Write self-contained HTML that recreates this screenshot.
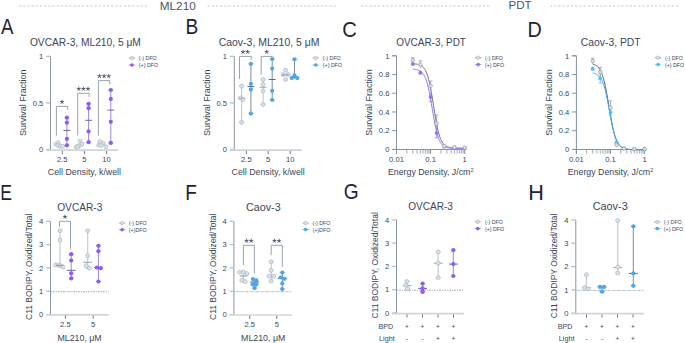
<!DOCTYPE html>
<html><head><meta charset="utf-8"><style>
html,body{margin:0;padding:0;background:#fff;}
body{width:685px;height:343px;overflow:hidden;}
svg{display:block;font-family:"Liberation Sans", sans-serif;}
</style></head><body>
<svg width="685" height="343" viewBox="0 0 685 343">
<rect width="685" height="343" fill="#fff"/>
<line x1="18.80" y1="6.00" x2="147.70" y2="6.00" stroke="#c3cad5" stroke-width="1" stroke-dasharray="2.3 1.9"/>
<line x1="207.50" y1="6.00" x2="336.80" y2="6.00" stroke="#c3cad5" stroke-width="1" stroke-dasharray="2.3 1.9"/>
<text x="177.75" y="9.50" font-size="11.2" fill="#4b5565" text-anchor="middle"  textLength="35.92" lengthAdjust="spacingAndGlyphs">ML210</text>
<line x1="361.00" y1="6.00" x2="490.50" y2="6.00" stroke="#c3cad5" stroke-width="1" stroke-dasharray="2.3 1.9"/>
<line x1="549.90" y1="6.00" x2="679.00" y2="6.00" stroke="#c3cad5" stroke-width="1" stroke-dasharray="2.3 1.9"/>
<text x="520.10" y="9.20" font-size="11" fill="#4b5565" text-anchor="middle"  textLength="23.01" lengthAdjust="spacingAndGlyphs">PDT</text>
<text x="1.06" y="34.00" font-size="21.6" fill="#1c2435" text-anchor="start"  textLength="12.47" lengthAdjust="spacingAndGlyphs">A</text>
<text x="29.92" y="46.30" font-size="10" fill="#3a4558" text-anchor="start"  textLength="110.92" lengthAdjust="spacingAndGlyphs">OVCAR-3, ML210, 5 μM</text>
<line x1="50.50" y1="56.40" x2="50.50" y2="150.00" stroke="#8b94a2" stroke-width="1" />
<line x1="46.20" y1="56.40" x2="50.10" y2="56.40" stroke="#b7bec8" stroke-width="1.3" />
<text x="43.30" y="59.10" font-size="7.6" fill="#3a4558" text-anchor="end" >1</text>
<line x1="46.20" y1="102.90" x2="50.10" y2="102.90" stroke="#b7bec8" stroke-width="1.3" />
<text x="43.30" y="105.60" font-size="7.6" fill="#3a4558" text-anchor="end" >0.5</text>
<line x1="46.20" y1="149.40" x2="50.10" y2="149.40" stroke="#b7bec8" stroke-width="1.3" />
<text x="43.30" y="152.10" font-size="7.6" fill="#3a4558" text-anchor="end" >0</text>
<text transform="translate(26.00,102.80) rotate(-90)" font-size="8.8" fill="#3a4558" text-anchor="middle" textLength="66.49" lengthAdjust="spacingAndGlyphs">Survival Fraction</text>
<circle cx="55.80" cy="144.00" r="2" fill="#d9e1ea" stroke="#a5b0be" stroke-width="0.6"/>
<circle cx="58.30" cy="142.60" r="2" fill="#d9e1ea" stroke="#a5b0be" stroke-width="0.6"/>
<circle cx="57.80" cy="145.50" r="2" fill="#d9e1ea" stroke="#a5b0be" stroke-width="0.6"/>
<circle cx="60.30" cy="146.30" r="2" fill="#d9e1ea" stroke="#a5b0be" stroke-width="0.6"/>
<circle cx="62.60" cy="146.30" r="2" fill="#d9e1ea" stroke="#a5b0be" stroke-width="0.6"/>
<line x1="66.90" y1="117.70" x2="66.90" y2="145.30" stroke="#968bcf" stroke-width="1" />
<line x1="64.30" y1="117.70" x2="69.50" y2="117.70" stroke="#968bcf" stroke-width="0.7" />
<line x1="64.30" y1="145.30" x2="69.50" y2="145.30" stroke="#968bcf" stroke-width="0.7" />
<line x1="63.50" y1="130.40" x2="70.30" y2="130.40" stroke="#6a639f" stroke-width="1" />
<circle cx="66.90" cy="117.70" r="2.1" fill="#8b5cf6" stroke="none" stroke-width="0.6"/>
<circle cx="66.90" cy="122.70" r="2.1" fill="#8b5cf6" stroke="none" stroke-width="0.6"/>
<circle cx="66.90" cy="138.90" r="2.1" fill="#8b5cf6" stroke="none" stroke-width="0.6"/>
<circle cx="66.90" cy="145.30" r="2.1" fill="#8b5cf6" stroke="none" stroke-width="0.6"/>
<circle cx="79.90" cy="141.00" r="2" fill="#d9e1ea" stroke="#a5b0be" stroke-width="0.6"/>
<circle cx="82.00" cy="144.00" r="2" fill="#d9e1ea" stroke="#a5b0be" stroke-width="0.6"/>
<circle cx="79.00" cy="145.90" r="2" fill="#d9e1ea" stroke="#a5b0be" stroke-width="0.6"/>
<circle cx="76.00" cy="146.80" r="2" fill="#d9e1ea" stroke="#a5b0be" stroke-width="0.6"/>
<circle cx="77.80" cy="147.00" r="2" fill="#d9e1ea" stroke="#a5b0be" stroke-width="0.6"/>
<line x1="88.60" y1="103.80" x2="88.60" y2="142.20" stroke="#968bcf" stroke-width="1" />
<line x1="86.00" y1="103.80" x2="91.20" y2="103.80" stroke="#968bcf" stroke-width="0.7" />
<line x1="86.00" y1="142.20" x2="91.20" y2="142.20" stroke="#968bcf" stroke-width="0.7" />
<line x1="85.20" y1="120.30" x2="92.00" y2="120.30" stroke="#6a639f" stroke-width="1" />
<circle cx="88.60" cy="103.80" r="2.1" fill="#8b5cf6" stroke="none" stroke-width="0.6"/>
<circle cx="88.60" cy="108.20" r="2.1" fill="#8b5cf6" stroke="none" stroke-width="0.6"/>
<circle cx="88.60" cy="131.40" r="2.1" fill="#8b5cf6" stroke="none" stroke-width="0.6"/>
<circle cx="88.60" cy="142.20" r="2.1" fill="#8b5cf6" stroke="none" stroke-width="0.6"/>
<circle cx="99.80" cy="141.50" r="2" fill="#d9e1ea" stroke="#a5b0be" stroke-width="0.6"/>
<circle cx="103.10" cy="143.30" r="2" fill="#d9e1ea" stroke="#a5b0be" stroke-width="0.6"/>
<circle cx="98.70" cy="145.00" r="2" fill="#d9e1ea" stroke="#a5b0be" stroke-width="0.6"/>
<circle cx="101.00" cy="145.50" r="2" fill="#d9e1ea" stroke="#a5b0be" stroke-width="0.6"/>
<circle cx="105.90" cy="146.80" r="2" fill="#d9e1ea" stroke="#a5b0be" stroke-width="0.6"/>
<line x1="110.80" y1="90.00" x2="110.80" y2="142.90" stroke="#968bcf" stroke-width="1" />
<line x1="108.20" y1="90.00" x2="113.40" y2="90.00" stroke="#968bcf" stroke-width="0.7" />
<line x1="108.20" y1="142.90" x2="113.40" y2="142.90" stroke="#968bcf" stroke-width="0.7" />
<line x1="107.40" y1="110.10" x2="114.20" y2="110.10" stroke="#6a639f" stroke-width="1" />
<circle cx="110.80" cy="90.00" r="2.1" fill="#8b5cf6" stroke="none" stroke-width="0.6"/>
<circle cx="110.80" cy="98.90" r="2.1" fill="#8b5cf6" stroke="none" stroke-width="0.6"/>
<circle cx="110.80" cy="121.80" r="2.1" fill="#8b5cf6" stroke="none" stroke-width="0.6"/>
<circle cx="110.80" cy="142.90" r="2.1" fill="#8b5cf6" stroke="none" stroke-width="0.6"/>
<polyline points="56.40,135.70 56.40,106.40 67.70,106.40 67.70,110.00" fill="none" stroke="#949dab" stroke-width="0.95"/>
<path d="M62.05,102.00L62.05,100.25M62.05,102.00L63.71,101.46M62.05,102.00L63.08,103.42M62.05,102.00L61.02,103.42M62.05,102.00L60.39,101.46" stroke="#465064" stroke-width="0.85" stroke-linecap="round" fill="none"/>
<polyline points="77.70,135.40 77.70,93.30 89.10,93.30 89.10,97.00" fill="none" stroke="#949dab" stroke-width="0.95"/>
<path d="M78.80,88.90L78.80,87.15M78.80,88.90L80.46,88.36M78.80,88.90L79.83,90.32M78.80,88.90L77.77,90.32M78.80,88.90L77.14,88.36" stroke="#465064" stroke-width="0.85" stroke-linecap="round" fill="none"/>
<path d="M83.40,88.90L83.40,87.15M83.40,88.90L85.06,88.36M83.40,88.90L84.43,90.32M83.40,88.90L82.37,90.32M83.40,88.90L81.74,88.36" stroke="#465064" stroke-width="0.85" stroke-linecap="round" fill="none"/>
<path d="M88.00,88.90L88.00,87.15M88.00,88.90L89.66,88.36M88.00,88.90L89.03,90.32M88.00,88.90L86.97,90.32M88.00,88.90L86.34,88.36" stroke="#465064" stroke-width="0.85" stroke-linecap="round" fill="none"/>
<polyline points="98.40,135.60 98.40,80.60 109.80,80.60 109.80,84.60" fill="none" stroke="#949dab" stroke-width="0.95"/>
<path d="M99.50,76.20L99.50,74.45M99.50,76.20L101.16,75.66M99.50,76.20L100.53,77.62M99.50,76.20L98.47,77.62M99.50,76.20L97.84,75.66" stroke="#465064" stroke-width="0.85" stroke-linecap="round" fill="none"/>
<path d="M104.10,76.20L104.10,74.45M104.10,76.20L105.76,75.66M104.10,76.20L105.13,77.62M104.10,76.20L103.07,77.62M104.10,76.20L102.44,75.66" stroke="#465064" stroke-width="0.85" stroke-linecap="round" fill="none"/>
<path d="M108.70,76.20L108.70,74.45M108.70,76.20L110.36,75.66M108.70,76.20L109.73,77.62M108.70,76.20L107.67,77.62M108.70,76.20L107.04,75.66" stroke="#465064" stroke-width="0.85" stroke-linecap="round" fill="none"/>
<line x1="46.00" y1="150.20" x2="118.20" y2="150.20" stroke="#d0d4da" stroke-width="1.7" />
<line x1="62.30" y1="151.00" x2="62.30" y2="154.20" stroke="#6f7886" stroke-width="1" />
<text x="62.30" y="161.90" font-size="7.6" fill="#3a4558" text-anchor="middle" >2.5</text>
<line x1="84.40" y1="151.00" x2="84.40" y2="154.20" stroke="#6f7886" stroke-width="1" />
<text x="84.40" y="161.90" font-size="7.6" fill="#3a4558" text-anchor="middle" >5</text>
<line x1="106.60" y1="151.00" x2="106.60" y2="154.20" stroke="#6f7886" stroke-width="1" />
<text x="106.60" y="161.90" font-size="7.6" fill="#3a4558" text-anchor="middle" >10</text>
<text x="84.40" y="175.00" font-size="8.8" fill="#3a4558" text-anchor="middle" >Cell Density, k/well</text>
<line x1="128.70" y1="58.00" x2="135.10" y2="58.00" stroke="#8a94a3" stroke-width="0.7" />
<circle cx="131.90" cy="58.00" r="1.7" fill="#d9e1ea" stroke="#a5b0be" stroke-width="0.6"/>
<text x="138.80" y="59.90" font-size="5.3" fill="#3a4558" text-anchor="start" >(-) DFO</text>
<line x1="128.70" y1="65.00" x2="135.10" y2="65.00" stroke="#7d8797" stroke-width="0.7" />
<circle cx="131.90" cy="65.00" r="1.8" fill="#8b5cf6" stroke="none" stroke-width="0.6"/>
<text x="138.80" y="66.90" font-size="5.3" fill="#3a4558" text-anchor="start" >(+) DFO</text>
<text x="185.43" y="33.80" font-size="21.6" fill="#1c2435" text-anchor="start"  textLength="12.78" lengthAdjust="spacingAndGlyphs">B</text>
<text x="218.67" y="46.30" font-size="10" fill="#3a4558" text-anchor="start"  textLength="100.89" lengthAdjust="spacingAndGlyphs">Caov-3, ML210, 5 μM</text>
<line x1="234.30" y1="56.40" x2="234.30" y2="150.00" stroke="#8b94a2" stroke-width="1" />
<line x1="230.00" y1="56.40" x2="233.90" y2="56.40" stroke="#b7bec8" stroke-width="1.3" />
<text x="227.10" y="59.10" font-size="7.6" fill="#3a4558" text-anchor="end" >1</text>
<line x1="230.00" y1="102.90" x2="233.90" y2="102.90" stroke="#b7bec8" stroke-width="1.3" />
<text x="227.10" y="105.60" font-size="7.6" fill="#3a4558" text-anchor="end" >0.5</text>
<line x1="230.00" y1="149.40" x2="233.90" y2="149.40" stroke="#b7bec8" stroke-width="1.3" />
<text x="227.10" y="152.10" font-size="7.6" fill="#3a4558" text-anchor="end" >0</text>
<text transform="translate(209.80,102.80) rotate(-90)" font-size="8.8" fill="#3a4558" text-anchor="middle" textLength="66.49" lengthAdjust="spacingAndGlyphs">Survival Fraction</text>
<line x1="241.60" y1="86.10" x2="241.60" y2="122.40" stroke="#c4ccd6" stroke-width="1.2" />
<line x1="239.00" y1="86.10" x2="244.20" y2="86.10" stroke="#c4ccd6" stroke-width="0.7" />
<line x1="239.00" y1="122.40" x2="244.20" y2="122.40" stroke="#c4ccd6" stroke-width="0.7" />
<circle cx="241.60" cy="86.10" r="2" fill="#d9e1ea" stroke="#a5b0be" stroke-width="0.6"/>
<circle cx="240.40" cy="97.90" r="2" fill="#d9e1ea" stroke="#a5b0be" stroke-width="0.6"/>
<circle cx="243.00" cy="99.60" r="2" fill="#d9e1ea" stroke="#a5b0be" stroke-width="0.6"/>
<circle cx="241.60" cy="122.40" r="2" fill="#d9e1ea" stroke="#a5b0be" stroke-width="0.6"/>
<line x1="238.30" y1="98.20" x2="245.00" y2="98.20" stroke="#a9b2be" stroke-width="1" />
<line x1="250.90" y1="63.90" x2="250.90" y2="113.60" stroke="#7f8b9b" stroke-width="1" />
<line x1="248.30" y1="63.90" x2="253.50" y2="63.90" stroke="#7f8b9b" stroke-width="0.7" />
<line x1="248.30" y1="113.60" x2="253.50" y2="113.60" stroke="#7f8b9b" stroke-width="0.7" />
<line x1="247.50" y1="86.60" x2="254.30" y2="86.60" stroke="#5d6878" stroke-width="1" />
<circle cx="250.90" cy="63.90" r="2.1" fill="#4aa8ea" stroke="none" stroke-width="0.6"/>
<circle cx="250.90" cy="83.80" r="2.1" fill="#4aa8ea" stroke="none" stroke-width="0.6"/>
<circle cx="250.90" cy="89.60" r="2.1" fill="#4aa8ea" stroke="none" stroke-width="0.6"/>
<circle cx="250.90" cy="113.60" r="2.1" fill="#4aa8ea" stroke="none" stroke-width="0.6"/>
<line x1="263.10" y1="79.50" x2="263.10" y2="104.50" stroke="#c4ccd6" stroke-width="1.2" />
<line x1="260.50" y1="79.50" x2="265.70" y2="79.50" stroke="#c4ccd6" stroke-width="0.7" />
<line x1="260.50" y1="104.50" x2="265.70" y2="104.50" stroke="#c4ccd6" stroke-width="0.7" />
<line x1="259.70" y1="87.30" x2="266.50" y2="87.30" stroke="#97a1ae" stroke-width="1" />
<circle cx="263.10" cy="79.50" r="2" fill="#d9e1ea" stroke="#a5b0be" stroke-width="0.6"/>
<circle cx="263.10" cy="84.40" r="2" fill="#d9e1ea" stroke="#a5b0be" stroke-width="0.6"/>
<circle cx="263.10" cy="90.90" r="2" fill="#d9e1ea" stroke="#a5b0be" stroke-width="0.6"/>
<circle cx="263.10" cy="104.50" r="2" fill="#d9e1ea" stroke="#a5b0be" stroke-width="0.6"/>
<line x1="272.20" y1="59.00" x2="272.20" y2="100.00" stroke="#7f8b9b" stroke-width="1" />
<line x1="269.60" y1="59.00" x2="274.80" y2="59.00" stroke="#7f8b9b" stroke-width="0.7" />
<line x1="269.60" y1="100.00" x2="274.80" y2="100.00" stroke="#7f8b9b" stroke-width="0.7" />
<line x1="268.80" y1="79.50" x2="275.60" y2="79.50" stroke="#5d6878" stroke-width="1" />
<circle cx="272.20" cy="59.00" r="2.1" fill="#4aa8ea" stroke="none" stroke-width="0.6"/>
<circle cx="272.20" cy="68.60" r="2.1" fill="#4aa8ea" stroke="none" stroke-width="0.6"/>
<circle cx="272.20" cy="90.80" r="2.1" fill="#4aa8ea" stroke="none" stroke-width="0.6"/>
<circle cx="272.20" cy="100.00" r="2.1" fill="#4aa8ea" stroke="none" stroke-width="0.6"/>
<circle cx="285.60" cy="70.20" r="2" fill="#d9e1ea" stroke="#a5b0be" stroke-width="0.6"/>
<circle cx="283.00" cy="74.50" r="2" fill="#d9e1ea" stroke="#a5b0be" stroke-width="0.6"/>
<circle cx="288.20" cy="74.50" r="2" fill="#d9e1ea" stroke="#a5b0be" stroke-width="0.6"/>
<circle cx="285.60" cy="79.60" r="2" fill="#d9e1ea" stroke="#a5b0be" stroke-width="0.6"/>
<line x1="281.80" y1="75.00" x2="289.00" y2="75.00" stroke="#8a95a5" stroke-width="1" />
<line x1="294.50" y1="59.30" x2="294.50" y2="78.10" stroke="#7f8b9b" stroke-width="1" />
<line x1="291.90" y1="59.30" x2="297.10" y2="59.30" stroke="#7f8b9b" stroke-width="0.7" />
<line x1="291.90" y1="78.10" x2="297.10" y2="78.10" stroke="#7f8b9b" stroke-width="0.7" />
<line x1="291.10" y1="77.00" x2="297.90" y2="77.00" stroke="#5d6878" stroke-width="1" />
<circle cx="294.50" cy="59.30" r="2.1" fill="#4aa8ea" stroke="none" stroke-width="0.6"/>
<circle cx="294.50" cy="75.40" r="2.1" fill="#4aa8ea" stroke="none" stroke-width="0.6"/>
<circle cx="291.70" cy="78.10" r="2.1" fill="#4aa8ea" stroke="none" stroke-width="0.6"/>
<circle cx="297.30" cy="78.10" r="2.1" fill="#4aa8ea" stroke="none" stroke-width="0.6"/>
<polyline points="239.50,79.00 239.50,56.40 251.20,56.40 251.20,59.90" fill="none" stroke="#949dab" stroke-width="0.95"/>
<path d="M243.05,52.00L243.05,50.25M243.05,52.00L244.71,51.46M243.05,52.00L244.08,53.42M243.05,52.00L242.02,53.42M243.05,52.00L241.39,51.46" stroke="#465064" stroke-width="0.85" stroke-linecap="round" fill="none"/>
<path d="M247.65,52.00L247.65,50.25M247.65,52.00L249.31,51.46M247.65,52.00L248.68,53.42M247.65,52.00L246.62,53.42M247.65,52.00L245.99,51.46" stroke="#465064" stroke-width="0.85" stroke-linecap="round" fill="none"/>
<polyline points="261.20,74.70 261.20,56.40 272.20,56.40 272.20,57.50" fill="none" stroke="#949dab" stroke-width="0.95"/>
<path d="M266.70,52.00L266.70,50.25M266.70,52.00L268.36,51.46M266.70,52.00L267.73,53.42M266.70,52.00L265.67,53.42M266.70,52.00L265.04,51.46" stroke="#465064" stroke-width="0.85" stroke-linecap="round" fill="none"/>
<line x1="229.80" y1="150.20" x2="301.90" y2="150.20" stroke="#d0d4da" stroke-width="1.7" />
<line x1="246.40" y1="151.00" x2="246.40" y2="154.20" stroke="#6f7886" stroke-width="1" />
<text x="246.40" y="161.90" font-size="7.6" fill="#3a4558" text-anchor="middle" >2.5</text>
<line x1="268.20" y1="151.00" x2="268.20" y2="154.20" stroke="#6f7886" stroke-width="1" />
<text x="268.20" y="161.90" font-size="7.6" fill="#3a4558" text-anchor="middle" >5</text>
<line x1="290.20" y1="151.00" x2="290.20" y2="154.20" stroke="#6f7886" stroke-width="1" />
<text x="290.20" y="161.90" font-size="7.6" fill="#3a4558" text-anchor="middle" >10</text>
<text x="268.20" y="175.00" font-size="8.8" fill="#3a4558" text-anchor="middle" >Cell Density, k/well</text>
<line x1="312.50" y1="57.90" x2="318.90" y2="57.90" stroke="#8a94a3" stroke-width="0.7" />
<circle cx="315.70" cy="57.90" r="1.7" fill="#d9e1ea" stroke="#a5b0be" stroke-width="0.6"/>
<text x="322.80" y="59.80" font-size="5.3" fill="#3a4558" text-anchor="start" >(-) DFO</text>
<line x1="312.50" y1="65.00" x2="318.90" y2="65.00" stroke="#7d8797" stroke-width="0.7" />
<circle cx="315.70" cy="65.00" r="1.8" fill="#4aa8ea" stroke="none" stroke-width="0.6"/>
<text x="322.80" y="66.90" font-size="5.3" fill="#3a4558" text-anchor="start" >(+) DFO</text>
<text x="342.27" y="36.60" font-size="21.6" fill="#1c2435" text-anchor="start"  textLength="14.60" lengthAdjust="spacingAndGlyphs">C</text>
<text x="396.23" y="46.20" font-size="10" fill="#3a4558" text-anchor="start"  textLength="69.70" lengthAdjust="spacingAndGlyphs">OVCAR-3, PDT</text>
<line x1="396.50" y1="55.80" x2="396.50" y2="153.80" stroke="#8791a0" stroke-width="1" />
<line x1="392.20" y1="149.40" x2="396.50" y2="149.40" stroke="#8791a0" stroke-width="1" />
<text x="389.40" y="152.10" font-size="7.6" fill="#3a4558" text-anchor="end" >0</text>
<line x1="392.20" y1="130.68" x2="396.50" y2="130.68" stroke="#8791a0" stroke-width="1" />
<text x="389.40" y="133.38" font-size="7.6" fill="#3a4558" text-anchor="end" >0.2</text>
<line x1="392.20" y1="111.96" x2="396.50" y2="111.96" stroke="#8791a0" stroke-width="1" />
<text x="389.40" y="114.66" font-size="7.6" fill="#3a4558" text-anchor="end" >0.4</text>
<line x1="392.20" y1="93.24" x2="396.50" y2="93.24" stroke="#8791a0" stroke-width="1" />
<text x="389.40" y="95.94" font-size="7.6" fill="#3a4558" text-anchor="end" >0.6</text>
<line x1="392.20" y1="74.52" x2="396.50" y2="74.52" stroke="#8791a0" stroke-width="1" />
<text x="389.40" y="77.22" font-size="7.6" fill="#3a4558" text-anchor="end" >0.8</text>
<line x1="392.20" y1="55.80" x2="396.50" y2="55.80" stroke="#8791a0" stroke-width="1" />
<text x="389.40" y="58.50" font-size="7.6" fill="#3a4558" text-anchor="end" >1</text>
<line x1="392.20" y1="55.80" x2="396.50" y2="55.80" stroke="#8791a0" stroke-width="1" />
<line x1="392.20" y1="149.50" x2="466.20" y2="149.50" stroke="#8791a0" stroke-width="1" />
<line x1="396.50" y1="149.50" x2="396.50" y2="153.80" stroke="#8791a0" stroke-width="1" />
<line x1="406.77" y1="149.50" x2="406.77" y2="153.60" stroke="#97a0ad" stroke-width="0.9" />
<line x1="412.77" y1="149.50" x2="412.77" y2="153.60" stroke="#97a0ad" stroke-width="0.9" />
<line x1="417.03" y1="149.50" x2="417.03" y2="153.60" stroke="#97a0ad" stroke-width="0.9" />
<line x1="420.33" y1="149.50" x2="420.33" y2="153.60" stroke="#97a0ad" stroke-width="0.9" />
<line x1="423.03" y1="149.50" x2="423.03" y2="153.60" stroke="#97a0ad" stroke-width="0.9" />
<line x1="425.32" y1="149.50" x2="425.32" y2="153.60" stroke="#97a0ad" stroke-width="0.9" />
<line x1="427.30" y1="149.50" x2="427.30" y2="153.60" stroke="#97a0ad" stroke-width="0.9" />
<line x1="429.04" y1="149.50" x2="429.04" y2="153.60" stroke="#97a0ad" stroke-width="0.9" />
<line x1="430.60" y1="149.50" x2="430.60" y2="153.80" stroke="#8791a0" stroke-width="1" />
<line x1="440.87" y1="149.50" x2="440.87" y2="153.60" stroke="#97a0ad" stroke-width="0.9" />
<line x1="446.87" y1="149.50" x2="446.87" y2="153.60" stroke="#97a0ad" stroke-width="0.9" />
<line x1="451.13" y1="149.50" x2="451.13" y2="153.60" stroke="#97a0ad" stroke-width="0.9" />
<line x1="454.43" y1="149.50" x2="454.43" y2="153.60" stroke="#97a0ad" stroke-width="0.9" />
<line x1="457.13" y1="149.50" x2="457.13" y2="153.60" stroke="#97a0ad" stroke-width="0.9" />
<line x1="459.42" y1="149.50" x2="459.42" y2="153.60" stroke="#97a0ad" stroke-width="0.9" />
<line x1="461.40" y1="149.50" x2="461.40" y2="153.60" stroke="#97a0ad" stroke-width="0.9" />
<line x1="463.14" y1="149.50" x2="463.14" y2="153.60" stroke="#97a0ad" stroke-width="0.9" />
<line x1="464.70" y1="149.50" x2="464.70" y2="153.80" stroke="#8791a0" stroke-width="1" />
<text x="396.50" y="161.90" font-size="7.6" fill="#3a4558" text-anchor="middle" >0.01</text>
<text x="430.60" y="161.90" font-size="7.6" fill="#3a4558" text-anchor="middle" >0.1</text>
<text x="464.70" y="161.90" font-size="7.6" fill="#3a4558" text-anchor="middle" >1</text>
<text x="430.70" y="175.1" font-size="8.8" fill="#3a4558" text-anchor="middle">Energy Density, J/cm<tspan font-size="5.5" dy="-3.3">2</tspan></text>
<text transform="translate(372.20,102.50) rotate(-90)" font-size="8.8" fill="#3a4558" text-anchor="middle" textLength="66.49" lengthAdjust="spacingAndGlyphs">Survival Fraction</text>
<polyline points="412.77,63.75 413.20,63.78 413.64,63.80 414.07,63.83 414.50,63.87 414.93,63.91 415.37,63.95 415.80,64.00 416.23,64.06 416.66,64.12 417.10,64.19 417.53,64.28 417.96,64.37 418.40,64.48 418.83,64.60 419.26,64.74 419.69,64.90 420.13,65.08 420.56,65.28 420.99,65.51 421.42,65.77 421.86,66.06 422.29,66.39 422.72,66.76 423.16,67.18 423.59,67.65 424.02,68.18 424.45,68.78 424.89,69.45 425.32,70.19 425.75,71.02 426.19,71.95 426.62,72.98 427.05,74.11 427.48,75.36 427.92,76.74 428.35,78.24 428.78,79.87 429.21,81.64 429.65,83.54 430.08,85.58 430.51,87.75 430.95,90.04 431.38,92.45 431.81,94.96 432.24,97.55 432.68,100.20 433.11,102.91 433.54,105.63 433.97,108.36 434.41,111.07 434.84,113.73 435.27,116.34 435.71,118.85 436.14,121.27 436.57,123.58 437.00,125.77 437.44,127.83 437.87,129.75 438.30,131.54 438.73,133.19 439.17,134.71 439.60,136.10 440.03,137.36 440.47,138.52 440.90,139.56 441.33,140.50 441.76,141.34 442.20,142.10 442.63,142.78 443.06,143.38 443.50,143.92 443.93,144.40 444.36,144.83 444.79,145.21 445.23,145.54 445.66,145.84 446.09,146.10 446.52,146.33 446.96,146.54 447.39,146.72 447.82,146.88 448.26,147.02 448.69,147.15 449.12,147.25 449.55,147.35 449.99,147.44 450.42,147.51 450.85,147.58 451.28,147.63 451.72,147.69 452.15,147.73 452.58,147.77 453.02,147.80 453.45,147.83 453.88,147.86 454.31,147.88 454.75,147.91 455.18,147.92 455.61,147.94 456.04,147.95 456.48,147.97 456.91,147.98 457.34,147.99 457.78,148.00 458.21,148.00 458.64,148.01 459.07,148.01 459.51,148.02 459.94,148.02 460.37,148.03 460.81,148.03 461.24,148.03 461.67,148.04 462.10,148.04 462.54,148.04 462.97,148.04 463.40,148.04 463.83,148.05 464.27,148.05 464.70,148.05" fill="none" stroke="#6b7585" stroke-width="1"/>
<polyline points="412.77,69.11 413.20,69.14 413.64,69.18 414.07,69.22 414.50,69.27 414.93,69.32 415.37,69.38 415.80,69.45 416.23,69.53 416.66,69.62 417.10,69.72 417.53,69.83 417.96,69.97 418.40,70.11 418.83,70.28 419.26,70.47 419.69,70.69 420.13,70.93 420.56,71.21 420.99,71.52 421.42,71.87 421.86,72.27 422.29,72.71 422.72,73.21 423.16,73.78 423.59,74.41 424.02,75.11 424.45,75.90 424.89,76.77 425.32,77.75 425.75,78.82 426.19,80.00 426.62,81.30 427.05,82.73 427.48,84.27 427.92,85.95 428.35,87.75 428.78,89.68 429.21,91.73 429.65,93.91 430.08,96.18 430.51,98.55 430.95,101.01 431.38,103.52 431.81,106.08 432.24,108.66 432.68,111.23 433.11,113.79 433.54,116.31 433.97,118.76 434.41,121.14 434.84,123.42 435.27,125.60 435.71,127.66 436.14,129.59 436.57,131.40 437.00,133.08 437.44,134.63 437.87,136.06 438.30,137.37 438.73,138.55 439.17,139.63 439.60,140.61 440.03,141.49 440.47,142.28 440.90,142.99 441.33,143.62 441.76,144.19 442.20,144.69 442.63,145.14 443.06,145.54 443.50,145.89 443.93,146.21 444.36,146.48 444.79,146.73 445.23,146.94 445.66,147.14 446.09,147.30 446.52,147.45 446.96,147.58 447.39,147.70 447.82,147.80 448.26,147.89 448.69,147.97 449.12,148.04 449.55,148.10 449.99,148.16 450.42,148.20 450.85,148.24 451.28,148.28 451.72,148.31 452.15,148.34 452.58,148.37 453.02,148.39 453.45,148.41 453.88,148.42 454.31,148.44 454.75,148.45 455.18,148.46 455.61,148.47 456.04,148.48 456.48,148.49 456.91,148.50 457.34,148.50 457.78,148.51 458.21,148.51 458.64,148.52 459.07,148.52 459.51,148.52 459.94,148.53 460.37,148.53 460.81,148.53 461.24,148.53 461.67,148.53 462.10,148.54 462.54,148.54 462.97,148.54 463.40,148.54 463.83,148.54 464.27,148.54 464.70,148.54" fill="none" stroke="#9b6ff5" stroke-width="1"/>
<line x1="412.77" y1="57.67" x2="412.77" y2="62.35" stroke="#8791a0" stroke-width="0.7" />
<line x1="410.97" y1="57.67" x2="414.57" y2="57.67" stroke="#8791a0" stroke-width="0.7" />
<line x1="420.33" y1="60.85" x2="420.33" y2="68.34" stroke="#8791a0" stroke-width="0.7" />
<line x1="418.53" y1="60.85" x2="422.13" y2="60.85" stroke="#8791a0" stroke-width="0.7" />
<line x1="430.60" y1="81.07" x2="430.60" y2="90.43" stroke="#8791a0" stroke-width="0.7" />
<line x1="428.80" y1="81.07" x2="432.40" y2="81.07" stroke="#8791a0" stroke-width="0.7" />
<line x1="436.60" y1="115.05" x2="436.60" y2="131.90" stroke="#8791a0" stroke-width="0.7" />
<line x1="434.80" y1="115.05" x2="438.40" y2="115.05" stroke="#8791a0" stroke-width="0.7" />
<line x1="412.77" y1="63.01" x2="412.77" y2="64.88" stroke="#9b6ff5" stroke-width="0.7" />
<line x1="410.97" y1="64.88" x2="414.57" y2="64.88" stroke="#9b6ff5" stroke-width="0.7" />
<line x1="420.33" y1="71.24" x2="420.33" y2="74.05" stroke="#9b6ff5" stroke-width="0.7" />
<line x1="418.53" y1="74.05" x2="422.13" y2="74.05" stroke="#9b6ff5" stroke-width="0.7" />
<line x1="430.60" y1="92.30" x2="430.60" y2="101.66" stroke="#9b6ff5" stroke-width="0.7" />
<line x1="428.80" y1="101.66" x2="432.40" y2="101.66" stroke="#9b6ff5" stroke-width="0.7" />
<line x1="436.60" y1="128.43" x2="436.60" y2="137.79" stroke="#9b6ff5" stroke-width="0.7" />
<line x1="434.80" y1="137.79" x2="438.40" y2="137.79" stroke="#9b6ff5" stroke-width="0.7" />
<circle cx="412.77" cy="63.94" r="1.9" fill="#9b6ff5" stroke="none" stroke-width="0.6"/>
<circle cx="420.33" cy="72.65" r="1.9" fill="#9b6ff5" stroke="none" stroke-width="0.6"/>
<circle cx="430.60" cy="96.98" r="1.9" fill="#9b6ff5" stroke="none" stroke-width="0.6"/>
<circle cx="436.60" cy="133.11" r="1.9" fill="#9b6ff5" stroke="none" stroke-width="0.6"/>
<circle cx="444.17" cy="146.59" r="1.9" fill="#9b6ff5" stroke="none" stroke-width="0.6"/>
<circle cx="454.43" cy="147.53" r="1.9" fill="#9b6ff5" stroke="none" stroke-width="0.6"/>
<circle cx="464.70" cy="148.00" r="1.9" fill="#9b6ff5" stroke="none" stroke-width="0.6"/>
<circle cx="412.77" cy="60.01" r="1.8" fill="#dbe2ea" stroke="#8791a0" stroke-width="0.6"/>
<circle cx="420.33" cy="64.60" r="1.8" fill="#dbe2ea" stroke="#8791a0" stroke-width="0.6"/>
<circle cx="430.60" cy="85.75" r="1.8" fill="#dbe2ea" stroke="#8791a0" stroke-width="0.6"/>
<circle cx="436.60" cy="123.47" r="1.8" fill="#dbe2ea" stroke="#8791a0" stroke-width="0.6"/>
<circle cx="444.17" cy="146.31" r="1.8" fill="#dbe2ea" stroke="#8791a0" stroke-width="0.6"/>
<circle cx="454.43" cy="147.34" r="1.8" fill="#dbe2ea" stroke="#8791a0" stroke-width="0.6"/>
<circle cx="464.70" cy="147.81" r="1.8" fill="#dbe2ea" stroke="#8791a0" stroke-width="0.6"/>
<line x1="475.00" y1="57.70" x2="481.40" y2="57.70" stroke="#6b7585" stroke-width="0.7" />
<circle cx="478.20" cy="57.70" r="1.7" fill="#d9e1ea" stroke="#a5b0be" stroke-width="0.6"/>
<text x="484.90" y="59.60" font-size="5.3" fill="#3a4558" text-anchor="start" >(-) DFO</text>
<line x1="475.00" y1="64.60" x2="481.40" y2="64.60" stroke="#9b6ff5" stroke-width="0.7" />
<circle cx="478.20" cy="64.60" r="1.8" fill="#9b6ff5" stroke="none" stroke-width="0.6"/>
<text x="484.90" y="66.50" font-size="5.3" fill="#3a4558" text-anchor="start" >(+) DFO</text>
<text x="527.38" y="36.80" font-size="21.6" fill="#1c2435" text-anchor="start"  textLength="14.27" lengthAdjust="spacingAndGlyphs">D</text>
<text x="580.87" y="46.20" font-size="10" fill="#3a4558" text-anchor="start"  textLength="59.76" lengthAdjust="spacingAndGlyphs">Caov-3, PDT</text>
<line x1="576.40" y1="55.80" x2="576.40" y2="153.80" stroke="#8791a0" stroke-width="1" />
<line x1="572.10" y1="149.40" x2="576.40" y2="149.40" stroke="#8791a0" stroke-width="1" />
<text x="569.30" y="152.10" font-size="7.6" fill="#3a4558" text-anchor="end" >0</text>
<line x1="572.10" y1="130.68" x2="576.40" y2="130.68" stroke="#8791a0" stroke-width="1" />
<text x="569.30" y="133.38" font-size="7.6" fill="#3a4558" text-anchor="end" >0.2</text>
<line x1="572.10" y1="111.96" x2="576.40" y2="111.96" stroke="#8791a0" stroke-width="1" />
<text x="569.30" y="114.66" font-size="7.6" fill="#3a4558" text-anchor="end" >0.4</text>
<line x1="572.10" y1="93.24" x2="576.40" y2="93.24" stroke="#8791a0" stroke-width="1" />
<text x="569.30" y="95.94" font-size="7.6" fill="#3a4558" text-anchor="end" >0.6</text>
<line x1="572.10" y1="74.52" x2="576.40" y2="74.52" stroke="#8791a0" stroke-width="1" />
<text x="569.30" y="77.22" font-size="7.6" fill="#3a4558" text-anchor="end" >0.8</text>
<line x1="572.10" y1="55.80" x2="576.40" y2="55.80" stroke="#8791a0" stroke-width="1" />
<text x="569.30" y="58.50" font-size="7.6" fill="#3a4558" text-anchor="end" >1</text>
<line x1="572.10" y1="55.80" x2="576.40" y2="55.80" stroke="#8791a0" stroke-width="1" />
<line x1="572.10" y1="149.50" x2="646.10" y2="149.50" stroke="#8791a0" stroke-width="1" />
<line x1="576.40" y1="149.50" x2="576.40" y2="153.80" stroke="#8791a0" stroke-width="1" />
<line x1="586.67" y1="149.50" x2="586.67" y2="153.60" stroke="#97a0ad" stroke-width="0.9" />
<line x1="592.67" y1="149.50" x2="592.67" y2="153.60" stroke="#97a0ad" stroke-width="0.9" />
<line x1="596.93" y1="149.50" x2="596.93" y2="153.60" stroke="#97a0ad" stroke-width="0.9" />
<line x1="600.23" y1="149.50" x2="600.23" y2="153.60" stroke="#97a0ad" stroke-width="0.9" />
<line x1="602.93" y1="149.50" x2="602.93" y2="153.60" stroke="#97a0ad" stroke-width="0.9" />
<line x1="605.22" y1="149.50" x2="605.22" y2="153.60" stroke="#97a0ad" stroke-width="0.9" />
<line x1="607.20" y1="149.50" x2="607.20" y2="153.60" stroke="#97a0ad" stroke-width="0.9" />
<line x1="608.94" y1="149.50" x2="608.94" y2="153.60" stroke="#97a0ad" stroke-width="0.9" />
<line x1="610.50" y1="149.50" x2="610.50" y2="153.80" stroke="#8791a0" stroke-width="1" />
<line x1="620.77" y1="149.50" x2="620.77" y2="153.60" stroke="#97a0ad" stroke-width="0.9" />
<line x1="626.77" y1="149.50" x2="626.77" y2="153.60" stroke="#97a0ad" stroke-width="0.9" />
<line x1="631.03" y1="149.50" x2="631.03" y2="153.60" stroke="#97a0ad" stroke-width="0.9" />
<line x1="634.33" y1="149.50" x2="634.33" y2="153.60" stroke="#97a0ad" stroke-width="0.9" />
<line x1="637.03" y1="149.50" x2="637.03" y2="153.60" stroke="#97a0ad" stroke-width="0.9" />
<line x1="639.32" y1="149.50" x2="639.32" y2="153.60" stroke="#97a0ad" stroke-width="0.9" />
<line x1="641.30" y1="149.50" x2="641.30" y2="153.60" stroke="#97a0ad" stroke-width="0.9" />
<line x1="643.04" y1="149.50" x2="643.04" y2="153.60" stroke="#97a0ad" stroke-width="0.9" />
<line x1="644.60" y1="149.50" x2="644.60" y2="153.80" stroke="#8791a0" stroke-width="1" />
<text x="576.40" y="161.90" font-size="7.6" fill="#3a4558" text-anchor="middle" >0.01</text>
<text x="610.50" y="161.90" font-size="7.6" fill="#3a4558" text-anchor="middle" >0.1</text>
<text x="644.60" y="161.90" font-size="7.6" fill="#3a4558" text-anchor="middle" >1</text>
<text x="610.50" y="175.1" font-size="8.8" fill="#3a4558" text-anchor="middle">Energy Density, J/cm<tspan font-size="5.5" dy="-3.3">2</tspan></text>
<text transform="translate(552.10,102.50) rotate(-90)" font-size="8.8" fill="#3a4558" text-anchor="middle" textLength="66.49" lengthAdjust="spacingAndGlyphs">Survival Fraction</text>
<polyline points="592.67,64.08 593.10,64.20 593.54,64.33 593.97,64.48 594.40,64.65 594.83,64.83 595.27,65.04 595.70,65.28 596.13,65.55 596.56,65.84 597.00,66.17 597.43,66.54 597.86,66.96 598.30,67.42 598.73,67.94 599.16,68.51 599.59,69.14 600.03,69.85 600.46,70.63 600.89,71.49 601.32,72.44 601.76,73.48 602.19,74.62 602.62,75.87 603.06,77.23 603.49,78.70 603.92,80.29 604.35,81.99 604.79,83.82 605.22,85.77 605.65,87.82 606.09,89.99 606.52,92.26 606.95,94.62 607.38,97.06 607.82,99.56 608.25,102.11 608.68,104.69 609.11,107.28 609.55,109.87 609.98,112.43 610.41,114.95 610.85,117.41 611.28,119.80 611.71,122.10 612.14,124.30 612.58,126.40 613.01,128.39 613.44,130.25 613.87,132.00 614.31,133.63 614.74,135.14 615.17,136.54 615.61,137.82 616.04,139.00 616.47,140.08 616.90,141.06 617.34,141.95 617.77,142.75 618.20,143.48 618.63,144.14 619.07,144.74 619.50,145.27 619.93,145.75 620.37,146.18 620.80,146.57 621.23,146.91 621.66,147.22 622.10,147.50 622.53,147.74 622.96,147.96 623.40,148.16 623.83,148.33 624.26,148.48 624.69,148.62 625.13,148.75 625.56,148.86 625.99,148.95 626.42,149.04 626.86,149.12 627.29,149.18 627.72,149.24 628.16,149.30 628.59,149.35 629.02,149.39 629.45,149.43 629.89,149.46 630.32,149.49 630.75,149.52 631.18,149.54 631.62,149.56 632.05,149.58 632.48,149.59 632.92,149.61 633.35,149.62 633.78,149.63 634.21,149.64 634.65,149.65 635.08,149.66 635.51,149.67 635.94,149.67 636.38,149.68 636.81,149.68 637.24,149.69 637.68,149.69 638.11,149.70 638.54,149.70 638.97,149.70 639.41,149.70 639.84,149.71 640.27,149.71 640.71,149.71 641.14,149.71 641.57,149.71 642.00,149.71 642.44,149.71 642.87,149.72 643.30,149.72 643.73,149.72 644.17,149.72 644.60,149.72" fill="none" stroke="#56606f" stroke-width="1"/>
<polyline points="592.67,73.09 593.10,73.17 593.54,73.26 593.97,73.37 594.40,73.49 594.83,73.62 595.27,73.77 595.70,73.94 596.13,74.13 596.56,74.35 597.00,74.59 597.43,74.86 597.86,75.17 598.30,75.51 598.73,75.89 599.16,76.33 599.59,76.81 600.03,77.34 600.46,77.94 600.89,78.61 601.32,79.35 601.76,80.17 602.19,81.07 602.62,82.06 603.06,83.16 603.49,84.35 603.92,85.65 604.35,87.06 604.79,88.59 605.22,90.22 605.65,91.98 606.09,93.84 606.52,95.81 606.95,97.87 607.38,100.03 607.82,102.26 608.25,104.56 608.68,106.91 609.11,109.29 609.55,111.68 609.98,114.06 610.41,116.43 610.85,118.75 611.28,121.02 611.71,123.22 612.14,125.33 612.58,127.34 613.01,129.26 613.44,131.07 613.87,132.76 614.31,134.34 614.74,135.81 615.17,137.16 615.61,138.41 616.04,139.55 616.47,140.59 616.90,141.54 617.34,142.40 617.77,143.17 618.20,143.87 618.63,144.50 619.07,145.07 619.50,145.58 619.93,146.03 620.37,146.44 620.80,146.80 621.23,147.13 621.66,147.41 622.10,147.67 622.53,147.90 622.96,148.10 623.40,148.28 623.83,148.44 624.26,148.58 624.69,148.71 625.13,148.82 625.56,148.92 625.99,149.00 626.42,149.08 626.86,149.15 627.29,149.21 627.72,149.26 628.16,149.31 628.59,149.35 629.02,149.39 629.45,149.42 629.89,149.45 630.32,149.48 630.75,149.50 631.18,149.52 631.62,149.54 632.05,149.55 632.48,149.57 632.92,149.58 633.35,149.59 633.78,149.60 634.21,149.61 634.65,149.61 635.08,149.62 635.51,149.63 635.94,149.63 636.38,149.64 636.81,149.64 637.24,149.64 637.68,149.65 638.11,149.65 638.54,149.65 638.97,149.65 639.41,149.66 639.84,149.66 640.27,149.66 640.71,149.66 641.14,149.66 641.57,149.66 642.00,149.66 642.44,149.66 642.87,149.67 643.30,149.67 643.73,149.67 644.17,149.67 644.60,149.67" fill="none" stroke="#4aa5e2" stroke-width="1"/>
<line x1="592.67" y1="58.23" x2="592.67" y2="63.85" stroke="#8791a0" stroke-width="0.7" />
<line x1="590.87" y1="58.23" x2="594.47" y2="58.23" stroke="#8791a0" stroke-width="0.7" />
<line x1="600.23" y1="67.50" x2="600.23" y2="76.86" stroke="#8791a0" stroke-width="0.7" />
<line x1="598.43" y1="67.50" x2="602.03" y2="67.50" stroke="#8791a0" stroke-width="0.7" />
<line x1="610.50" y1="100.92" x2="610.50" y2="114.02" stroke="#8791a0" stroke-width="0.7" />
<line x1="608.70" y1="100.92" x2="612.30" y2="100.92" stroke="#8791a0" stroke-width="0.7" />
<line x1="616.50" y1="142.85" x2="616.50" y2="146.59" stroke="#8791a0" stroke-width="0.7" />
<line x1="614.70" y1="142.85" x2="618.30" y2="142.85" stroke="#8791a0" stroke-width="0.7" />
<line x1="592.67" y1="67.31" x2="592.67" y2="70.12" stroke="#55bcf3" stroke-width="0.7" />
<line x1="590.87" y1="70.12" x2="594.47" y2="70.12" stroke="#55bcf3" stroke-width="0.7" />
<line x1="600.23" y1="73.77" x2="600.23" y2="83.13" stroke="#55bcf3" stroke-width="0.7" />
<line x1="598.43" y1="83.13" x2="602.03" y2="83.13" stroke="#55bcf3" stroke-width="0.7" />
<line x1="610.50" y1="109.71" x2="610.50" y2="115.33" stroke="#55bcf3" stroke-width="0.7" />
<line x1="608.70" y1="115.33" x2="612.30" y2="115.33" stroke="#55bcf3" stroke-width="0.7" />
<line x1="616.50" y1="140.51" x2="616.50" y2="144.25" stroke="#55bcf3" stroke-width="0.7" />
<line x1="614.70" y1="144.25" x2="618.30" y2="144.25" stroke="#55bcf3" stroke-width="0.7" />
<circle cx="592.67" cy="68.72" r="1.9" fill="#55bcf3" stroke="none" stroke-width="0.6"/>
<circle cx="600.23" cy="78.45" r="1.9" fill="#55bcf3" stroke="none" stroke-width="0.6"/>
<circle cx="610.50" cy="112.52" r="1.9" fill="#55bcf3" stroke="none" stroke-width="0.6"/>
<circle cx="616.50" cy="142.38" r="1.9" fill="#55bcf3" stroke="none" stroke-width="0.6"/>
<circle cx="624.07" cy="148.46" r="1.9" fill="#55bcf3" stroke="none" stroke-width="0.6"/>
<circle cx="634.33" cy="149.03" r="1.9" fill="#55bcf3" stroke="none" stroke-width="0.6"/>
<circle cx="644.60" cy="149.03" r="1.9" fill="#55bcf3" stroke="none" stroke-width="0.6"/>
<circle cx="592.67" cy="61.04" r="1.8" fill="#dbe2ea" stroke="#8791a0" stroke-width="0.6"/>
<circle cx="600.23" cy="72.18" r="1.8" fill="#dbe2ea" stroke="#8791a0" stroke-width="0.6"/>
<circle cx="610.50" cy="107.47" r="1.8" fill="#dbe2ea" stroke="#8791a0" stroke-width="0.6"/>
<circle cx="616.50" cy="144.72" r="1.8" fill="#dbe2ea" stroke="#8791a0" stroke-width="0.6"/>
<circle cx="624.07" cy="148.46" r="1.8" fill="#dbe2ea" stroke="#8791a0" stroke-width="0.6"/>
<circle cx="634.33" cy="149.03" r="1.8" fill="#dbe2ea" stroke="#8791a0" stroke-width="0.6"/>
<circle cx="644.60" cy="149.03" r="1.8" fill="#dbe2ea" stroke="#8791a0" stroke-width="0.6"/>
<line x1="654.80" y1="57.70" x2="661.20" y2="57.70" stroke="#6b7585" stroke-width="0.7" />
<circle cx="658.00" cy="57.70" r="1.7" fill="#d9e1ea" stroke="#a5b0be" stroke-width="0.6"/>
<text x="664.90" y="59.60" font-size="5.3" fill="#3a4558" text-anchor="start" >(-) DFO</text>
<line x1="654.80" y1="64.60" x2="661.20" y2="64.60" stroke="#55bcf3" stroke-width="0.7" />
<circle cx="658.00" cy="64.60" r="1.8" fill="#55bcf3" stroke="none" stroke-width="0.6"/>
<text x="664.90" y="66.50" font-size="5.3" fill="#3a4558" text-anchor="start" >(+) DFO</text>
<text x="0.36" y="199.70" font-size="21.6" fill="#1c2435" text-anchor="start"  textLength="11.69" lengthAdjust="spacingAndGlyphs">E</text>
<text x="57.22" y="211.00" font-size="10" fill="#3a4558" text-anchor="start"  textLength="45.13" lengthAdjust="spacingAndGlyphs">OVCAR-3</text>
<line x1="50.50" y1="221.30" x2="50.50" y2="314.50" stroke="#8b94a2" stroke-width="1" />
<line x1="46.20" y1="314.50" x2="50.10" y2="314.50" stroke="#b7bec8" stroke-width="1.3" />
<text x="43.30" y="317.20" font-size="7.6" fill="#3a4558" text-anchor="end" >0</text>
<line x1="46.20" y1="291.20" x2="50.10" y2="291.20" stroke="#b7bec8" stroke-width="1.3" />
<text x="43.30" y="293.90" font-size="7.6" fill="#3a4558" text-anchor="end" >1</text>
<line x1="46.20" y1="267.90" x2="50.10" y2="267.90" stroke="#b7bec8" stroke-width="1.3" />
<text x="43.30" y="270.60" font-size="7.6" fill="#3a4558" text-anchor="end" >2</text>
<line x1="46.20" y1="244.60" x2="50.10" y2="244.60" stroke="#b7bec8" stroke-width="1.3" />
<text x="43.30" y="247.30" font-size="7.6" fill="#3a4558" text-anchor="end" >3</text>
<line x1="46.20" y1="221.30" x2="50.10" y2="221.30" stroke="#b7bec8" stroke-width="1.3" />
<text x="43.30" y="224.00" font-size="7.6" fill="#3a4558" text-anchor="end" >4</text>
<line x1="51.00" y1="291.70" x2="108.50" y2="291.70" stroke="#929ba9" stroke-width="0.8" stroke-dasharray="1 0.9 2.1 1"/>
<text transform="translate(31.80,266.80) rotate(-90)" font-size="8.6" fill="#3a4558" text-anchor="middle" textLength="106.33" lengthAdjust="spacingAndGlyphs">C11 BODIPY, Oxidized/Total</text>
<line x1="60.00" y1="230.60" x2="60.00" y2="265.80" stroke="#c4ccd6" stroke-width="1.2" />
<line x1="57.40" y1="230.60" x2="62.60" y2="230.60" stroke="#c4ccd6" stroke-width="0.7" />
<line x1="57.40" y1="265.80" x2="62.60" y2="265.80" stroke="#c4ccd6" stroke-width="0.7" />
<circle cx="60.00" cy="230.60" r="2" fill="#d9e1ea" stroke="#a5b0be" stroke-width="0.6"/>
<circle cx="60.00" cy="240.00" r="2" fill="#d9e1ea" stroke="#a5b0be" stroke-width="0.6"/>
<circle cx="55.60" cy="265.00" r="2" fill="#d9e1ea" stroke="#a5b0be" stroke-width="0.6"/>
<circle cx="58.40" cy="265.40" r="2" fill="#d9e1ea" stroke="#a5b0be" stroke-width="0.6"/>
<circle cx="60.80" cy="265.60" r="2" fill="#d9e1ea" stroke="#a5b0be" stroke-width="0.6"/>
<circle cx="63.00" cy="267.00" r="2" fill="#d9e1ea" stroke="#a5b0be" stroke-width="0.6"/>
<line x1="56.40" y1="265.40" x2="63.60" y2="265.40" stroke="#8a95a5" stroke-width="1" />
<line x1="71.20" y1="254.20" x2="71.20" y2="278.40" stroke="#968bcf" stroke-width="1" />
<line x1="68.60" y1="254.20" x2="73.80" y2="254.20" stroke="#968bcf" stroke-width="0.7" />
<line x1="68.60" y1="278.40" x2="73.80" y2="278.40" stroke="#968bcf" stroke-width="0.7" />
<line x1="66.80" y1="270.30" x2="75.60" y2="270.30" stroke="#6a639f" stroke-width="1" />
<circle cx="71.20" cy="254.20" r="2.1" fill="#8b5cf6" stroke="none" stroke-width="0.6"/>
<circle cx="71.20" cy="260.50" r="2.1" fill="#8b5cf6" stroke="none" stroke-width="0.6"/>
<circle cx="71.20" cy="273.30" r="2.1" fill="#8b5cf6" stroke="none" stroke-width="0.6"/>
<circle cx="71.20" cy="278.40" r="2.1" fill="#8b5cf6" stroke="none" stroke-width="0.6"/>
<line x1="87.70" y1="230.60" x2="87.70" y2="268.20" stroke="#c4ccd6" stroke-width="1.2" />
<line x1="85.10" y1="230.60" x2="90.30" y2="230.60" stroke="#c4ccd6" stroke-width="0.7" />
<line x1="85.10" y1="268.20" x2="90.30" y2="268.20" stroke="#c4ccd6" stroke-width="0.7" />
<line x1="83.30" y1="262.30" x2="92.10" y2="262.30" stroke="#97a1ae" stroke-width="1" />
<circle cx="87.70" cy="230.60" r="2" fill="#d9e1ea" stroke="#a5b0be" stroke-width="0.6"/>
<circle cx="87.70" cy="255.80" r="2" fill="#d9e1ea" stroke="#a5b0be" stroke-width="0.6"/>
<circle cx="86.20" cy="265.80" r="2" fill="#d9e1ea" stroke="#a5b0be" stroke-width="0.6"/>
<circle cx="89.30" cy="268.20" r="2" fill="#d9e1ea" stroke="#a5b0be" stroke-width="0.6"/>
<line x1="98.40" y1="245.80" x2="98.40" y2="281.50" stroke="#968bcf" stroke-width="1" />
<line x1="95.80" y1="245.80" x2="101.00" y2="245.80" stroke="#968bcf" stroke-width="0.7" />
<line x1="95.80" y1="281.50" x2="101.00" y2="281.50" stroke="#968bcf" stroke-width="0.7" />
<line x1="94.00" y1="267.50" x2="102.80" y2="267.50" stroke="#6a639f" stroke-width="1" />
<circle cx="98.40" cy="245.80" r="2.1" fill="#8b5cf6" stroke="none" stroke-width="0.6"/>
<circle cx="98.40" cy="251.20" r="2.1" fill="#8b5cf6" stroke="none" stroke-width="0.6"/>
<circle cx="96.80" cy="267.50" r="2.1" fill="#8b5cf6" stroke="none" stroke-width="0.6"/>
<circle cx="100.60" cy="268.20" r="2.1" fill="#8b5cf6" stroke="none" stroke-width="0.6"/>
<circle cx="98.40" cy="281.50" r="2.1" fill="#8b5cf6" stroke="none" stroke-width="0.6"/>
<polyline points="59.50,227.00 59.50,221.30 70.50,221.30 70.50,248.80" fill="none" stroke="#949dab" stroke-width="0.95"/>
<path d="M65.00,216.90L65.00,215.15M65.00,216.90L66.66,216.36M65.00,216.90L66.03,218.32M65.00,216.90L63.97,218.32M65.00,216.90L63.34,216.36" stroke="#465064" stroke-width="0.85" stroke-linecap="round" fill="none"/>
<line x1="46.00" y1="314.80" x2="108.60" y2="314.80" stroke="#d0d4da" stroke-width="1.7" />
<line x1="65.40" y1="315.60" x2="65.40" y2="318.80" stroke="#6f7886" stroke-width="1" />
<text x="65.40" y="327.40" font-size="7.6" fill="#3a4558" text-anchor="middle" >2.5</text>
<line x1="93.20" y1="315.60" x2="93.20" y2="318.80" stroke="#6f7886" stroke-width="1" />
<text x="93.20" y="327.40" font-size="7.6" fill="#3a4558" text-anchor="middle" >5</text>
<text x="79.50" y="340.70" font-size="8.8" fill="#3a4558" text-anchor="middle" >ML210, μM</text>
<line x1="118.90" y1="223.10" x2="125.30" y2="223.10" stroke="#8a94a3" stroke-width="0.7" />
<circle cx="122.10" cy="223.10" r="1.7" fill="#d9e1ea" stroke="#a5b0be" stroke-width="0.6"/>
<text x="128.80" y="225.00" font-size="5.3" fill="#3a4558" text-anchor="start" >(-) DFO</text>
<line x1="118.90" y1="229.70" x2="125.30" y2="229.70" stroke="#7d8797" stroke-width="0.7" />
<circle cx="122.10" cy="229.70" r="1.8" fill="#8b5cf6" stroke="none" stroke-width="0.6"/>
<text x="128.80" y="231.60" font-size="5.3" fill="#3a4558" text-anchor="start" >(+)DFO</text>
<text x="185.24" y="199.60" font-size="21.6" fill="#1c2435" text-anchor="start"  textLength="11.62" lengthAdjust="spacingAndGlyphs">F</text>
<text x="246.05" y="211.10" font-size="10" fill="#3a4558" text-anchor="start"  textLength="34.62" lengthAdjust="spacingAndGlyphs">Caov-3</text>
<line x1="233.90" y1="221.30" x2="233.90" y2="314.50" stroke="#8b94a2" stroke-width="1" />
<line x1="229.60" y1="314.50" x2="233.50" y2="314.50" stroke="#b7bec8" stroke-width="1.3" />
<text x="226.70" y="317.20" font-size="7.6" fill="#3a4558" text-anchor="end" >0</text>
<line x1="229.60" y1="291.20" x2="233.50" y2="291.20" stroke="#b7bec8" stroke-width="1.3" />
<text x="226.70" y="293.90" font-size="7.6" fill="#3a4558" text-anchor="end" >1</text>
<line x1="229.60" y1="267.90" x2="233.50" y2="267.90" stroke="#b7bec8" stroke-width="1.3" />
<text x="226.70" y="270.60" font-size="7.6" fill="#3a4558" text-anchor="end" >2</text>
<line x1="229.60" y1="244.60" x2="233.50" y2="244.60" stroke="#b7bec8" stroke-width="1.3" />
<text x="226.70" y="247.30" font-size="7.6" fill="#3a4558" text-anchor="end" >3</text>
<line x1="229.60" y1="221.30" x2="233.50" y2="221.30" stroke="#b7bec8" stroke-width="1.3" />
<text x="226.70" y="224.00" font-size="7.6" fill="#3a4558" text-anchor="end" >4</text>
<line x1="234.40" y1="291.70" x2="292.00" y2="291.70" stroke="#929ba9" stroke-width="0.8" stroke-dasharray="1 0.9 2.1 1"/>
<text transform="translate(215.50,266.80) rotate(-90)" font-size="8.6" fill="#3a4558" text-anchor="middle" textLength="106.33" lengthAdjust="spacingAndGlyphs">C11 BODIPY, Oxidized/Total</text>
<line x1="243.40" y1="272.20" x2="243.40" y2="281.60" stroke="#c4ccd6" stroke-width="1.2" />
<line x1="240.80" y1="272.20" x2="246.00" y2="272.20" stroke="#c4ccd6" stroke-width="0.7" />
<line x1="240.80" y1="281.60" x2="246.00" y2="281.60" stroke="#c4ccd6" stroke-width="0.7" />
<circle cx="239.60" cy="272.20" r="2" fill="#d9e1ea" stroke="#a5b0be" stroke-width="0.6"/>
<circle cx="243.40" cy="272.20" r="2" fill="#d9e1ea" stroke="#a5b0be" stroke-width="0.6"/>
<circle cx="247.00" cy="273.60" r="2" fill="#d9e1ea" stroke="#a5b0be" stroke-width="0.6"/>
<circle cx="241.90" cy="280.20" r="2" fill="#d9e1ea" stroke="#a5b0be" stroke-width="0.6"/>
<circle cx="245.20" cy="281.60" r="2" fill="#d9e1ea" stroke="#a5b0be" stroke-width="0.6"/>
<line x1="239.80" y1="276.00" x2="247.00" y2="276.00" stroke="#8a95a5" stroke-width="1" />
<line x1="254.60" y1="279.10" x2="254.60" y2="288.10" stroke="#7f8b9b" stroke-width="1" />
<line x1="252.00" y1="279.10" x2="257.20" y2="279.10" stroke="#7f8b9b" stroke-width="0.7" />
<line x1="252.00" y1="288.10" x2="257.20" y2="288.10" stroke="#7f8b9b" stroke-width="0.7" />
<line x1="250.20" y1="282.00" x2="259.00" y2="282.00" stroke="#5d6878" stroke-width="1" />
<circle cx="252.90" cy="279.10" r="2.1" fill="#4aa8ea" stroke="none" stroke-width="0.6"/>
<circle cx="256.40" cy="280.40" r="2.1" fill="#4aa8ea" stroke="none" stroke-width="0.6"/>
<circle cx="252.70" cy="284.30" r="2.1" fill="#4aa8ea" stroke="none" stroke-width="0.6"/>
<circle cx="256.40" cy="284.30" r="2.1" fill="#4aa8ea" stroke="none" stroke-width="0.6"/>
<circle cx="254.60" cy="288.10" r="2.1" fill="#4aa8ea" stroke="none" stroke-width="0.6"/>
<line x1="271.20" y1="261.80" x2="271.20" y2="281.10" stroke="#c4ccd6" stroke-width="1.2" />
<line x1="268.60" y1="261.80" x2="273.80" y2="261.80" stroke="#c4ccd6" stroke-width="0.7" />
<line x1="268.60" y1="281.10" x2="273.80" y2="281.10" stroke="#c4ccd6" stroke-width="0.7" />
<line x1="266.80" y1="276.20" x2="275.60" y2="276.20" stroke="#97a1ae" stroke-width="1" />
<circle cx="271.20" cy="261.80" r="2" fill="#d9e1ea" stroke="#a5b0be" stroke-width="0.6"/>
<circle cx="271.20" cy="270.30" r="2" fill="#d9e1ea" stroke="#a5b0be" stroke-width="0.6"/>
<circle cx="269.20" cy="276.20" r="2" fill="#d9e1ea" stroke="#a5b0be" stroke-width="0.6"/>
<circle cx="273.50" cy="276.20" r="2" fill="#d9e1ea" stroke="#a5b0be" stroke-width="0.6"/>
<circle cx="271.20" cy="281.10" r="2" fill="#d9e1ea" stroke="#a5b0be" stroke-width="0.6"/>
<line x1="282.30" y1="272.50" x2="282.30" y2="289.10" stroke="#7f8b9b" stroke-width="1" />
<line x1="279.70" y1="272.50" x2="284.90" y2="272.50" stroke="#7f8b9b" stroke-width="0.7" />
<line x1="279.70" y1="289.10" x2="284.90" y2="289.10" stroke="#7f8b9b" stroke-width="0.7" />
<line x1="277.90" y1="278.50" x2="286.70" y2="278.50" stroke="#5d6878" stroke-width="1" />
<circle cx="282.30" cy="272.50" r="2.1" fill="#4aa8ea" stroke="none" stroke-width="0.6"/>
<circle cx="280.70" cy="277.50" r="2.1" fill="#4aa8ea" stroke="none" stroke-width="0.6"/>
<circle cx="284.50" cy="278.80" r="2.1" fill="#4aa8ea" stroke="none" stroke-width="0.6"/>
<circle cx="282.30" cy="283.40" r="2.1" fill="#4aa8ea" stroke="none" stroke-width="0.6"/>
<circle cx="282.30" cy="289.10" r="2.1" fill="#4aa8ea" stroke="none" stroke-width="0.6"/>
<polyline points="243.40,265.10 243.40,245.30 254.40,245.30 254.40,273.30" fill="none" stroke="#949dab" stroke-width="0.95"/>
<path d="M246.60,240.90L246.60,239.15M246.60,240.90L248.26,240.36M246.60,240.90L247.63,242.32M246.60,240.90L245.57,242.32M246.60,240.90L244.94,240.36" stroke="#465064" stroke-width="0.85" stroke-linecap="round" fill="none"/>
<path d="M251.20,240.90L251.20,239.15M251.20,240.90L252.86,240.36M251.20,240.90L252.23,242.32M251.20,240.90L250.17,242.32M251.20,240.90L249.54,240.36" stroke="#465064" stroke-width="0.85" stroke-linecap="round" fill="none"/>
<polyline points="271.20,255.20 271.20,245.30 282.30,245.30 282.30,267.00" fill="none" stroke="#949dab" stroke-width="0.95"/>
<path d="M274.45,240.90L274.45,239.15M274.45,240.90L276.11,240.36M274.45,240.90L275.48,242.32M274.45,240.90L273.42,242.32M274.45,240.90L272.79,240.36" stroke="#465064" stroke-width="0.85" stroke-linecap="round" fill="none"/>
<path d="M279.05,240.90L279.05,239.15M279.05,240.90L280.71,240.36M279.05,240.90L280.08,242.32M279.05,240.90L278.02,242.32M279.05,240.90L277.39,240.36" stroke="#465064" stroke-width="0.85" stroke-linecap="round" fill="none"/>
<line x1="229.40" y1="315.00" x2="292.00" y2="315.00" stroke="#d0d4da" stroke-width="1.7" />
<line x1="249.70" y1="315.80" x2="249.70" y2="319.00" stroke="#6f7886" stroke-width="1" />
<text x="249.70" y="327.40" font-size="7.6" fill="#3a4558" text-anchor="middle" >2.5</text>
<line x1="276.80" y1="315.80" x2="276.80" y2="319.00" stroke="#6f7886" stroke-width="1" />
<text x="276.80" y="327.40" font-size="7.6" fill="#3a4558" text-anchor="middle" >5</text>
<text x="263.20" y="340.70" font-size="8.8" fill="#3a4558" text-anchor="middle" >ML210, μM</text>
<line x1="302.40" y1="223.10" x2="308.80" y2="223.10" stroke="#8a94a3" stroke-width="0.7" />
<circle cx="305.60" cy="223.10" r="1.7" fill="#d9e1ea" stroke="#a5b0be" stroke-width="0.6"/>
<text x="312.50" y="225.00" font-size="5.3" fill="#3a4558" text-anchor="start" >(-) DFO</text>
<line x1="302.40" y1="229.60" x2="308.80" y2="229.60" stroke="#7d8797" stroke-width="0.7" />
<circle cx="305.60" cy="229.60" r="1.8" fill="#4aa8ea" stroke="none" stroke-width="0.6"/>
<text x="312.50" y="231.50" font-size="5.3" fill="#3a4558" text-anchor="start" >(+)DFO</text>
<text x="343.74" y="199.40" font-size="21.6" fill="#1c2435" text-anchor="start"  textLength="14.89" lengthAdjust="spacingAndGlyphs">G</text>
<text x="408.22" y="209.90" font-size="10" fill="#3a4558" text-anchor="start"  textLength="44.72" lengthAdjust="spacingAndGlyphs">OVCAR-3</text>
<line x1="396.50" y1="219.80" x2="396.50" y2="313.00" stroke="#8b94a2" stroke-width="1" />
<line x1="392.20" y1="313.00" x2="396.10" y2="313.00" stroke="#b7bec8" stroke-width="1.3" />
<text x="389.30" y="315.70" font-size="7.6" fill="#3a4558" text-anchor="end" >0</text>
<line x1="392.20" y1="289.70" x2="396.10" y2="289.70" stroke="#b7bec8" stroke-width="1.3" />
<text x="389.30" y="292.40" font-size="7.6" fill="#3a4558" text-anchor="end" >1</text>
<line x1="392.20" y1="266.40" x2="396.10" y2="266.40" stroke="#b7bec8" stroke-width="1.3" />
<text x="389.30" y="269.10" font-size="7.6" fill="#3a4558" text-anchor="end" >2</text>
<line x1="392.20" y1="243.10" x2="396.10" y2="243.10" stroke="#b7bec8" stroke-width="1.3" />
<text x="389.30" y="245.80" font-size="7.6" fill="#3a4558" text-anchor="end" >3</text>
<line x1="392.20" y1="219.80" x2="396.10" y2="219.80" stroke="#b7bec8" stroke-width="1.3" />
<text x="389.30" y="222.50" font-size="7.6" fill="#3a4558" text-anchor="end" >4</text>
<line x1="397.00" y1="290.20" x2="464.00" y2="290.20" stroke="#929ba9" stroke-width="0.8" stroke-dasharray="1 0.9 2.1 1"/>
<text transform="translate(378.00,265.40) rotate(-90)" font-size="8.6" fill="#3a4558" text-anchor="middle" textLength="106.33" lengthAdjust="spacingAndGlyphs">C11 BODIPY, Oxidized/Total</text>
<line x1="407.00" y1="281.50" x2="407.00" y2="288.80" stroke="#c4ccd6" stroke-width="1.2" />
<line x1="404.40" y1="281.50" x2="409.60" y2="281.50" stroke="#c4ccd6" stroke-width="0.7" />
<line x1="404.40" y1="288.80" x2="409.60" y2="288.80" stroke="#c4ccd6" stroke-width="0.7" />
<line x1="402.60" y1="285.60" x2="411.40" y2="285.60" stroke="#97a1ae" stroke-width="1" />
<circle cx="407.00" cy="281.50" r="2" fill="#d9e1ea" stroke="#a5b0be" stroke-width="0.6"/>
<circle cx="405.90" cy="285.30" r="2" fill="#d9e1ea" stroke="#a5b0be" stroke-width="0.6"/>
<circle cx="407.70" cy="288.80" r="2" fill="#d9e1ea" stroke="#a5b0be" stroke-width="0.6"/>
<line x1="422.60" y1="283.60" x2="422.60" y2="291.90" stroke="#968bcf" stroke-width="1" />
<line x1="420.00" y1="283.60" x2="425.20" y2="283.60" stroke="#968bcf" stroke-width="0.7" />
<line x1="420.00" y1="291.90" x2="425.20" y2="291.90" stroke="#968bcf" stroke-width="0.7" />
<line x1="418.20" y1="288.40" x2="427.00" y2="288.40" stroke="#6a639f" stroke-width="1" />
<circle cx="422.60" cy="283.60" r="2.1" fill="#8b5cf6" stroke="none" stroke-width="0.6"/>
<circle cx="422.60" cy="288.40" r="2.1" fill="#8b5cf6" stroke="none" stroke-width="0.6"/>
<circle cx="422.60" cy="291.90" r="2.1" fill="#8b5cf6" stroke="none" stroke-width="0.6"/>
<line x1="438.20" y1="252.00" x2="438.20" y2="277.60" stroke="#c4ccd6" stroke-width="1.2" />
<line x1="435.60" y1="252.00" x2="440.80" y2="252.00" stroke="#c4ccd6" stroke-width="0.7" />
<line x1="435.60" y1="277.60" x2="440.80" y2="277.60" stroke="#c4ccd6" stroke-width="0.7" />
<line x1="433.80" y1="263.20" x2="442.60" y2="263.20" stroke="#97a1ae" stroke-width="1" />
<circle cx="438.20" cy="252.00" r="2" fill="#d9e1ea" stroke="#a5b0be" stroke-width="0.6"/>
<circle cx="438.20" cy="263.20" r="2" fill="#d9e1ea" stroke="#a5b0be" stroke-width="0.6"/>
<circle cx="438.20" cy="277.60" r="2" fill="#d9e1ea" stroke="#a5b0be" stroke-width="0.6"/>
<line x1="453.30" y1="250.10" x2="453.30" y2="276.00" stroke="#968bcf" stroke-width="1" />
<line x1="450.70" y1="250.10" x2="455.90" y2="250.10" stroke="#968bcf" stroke-width="0.7" />
<line x1="450.70" y1="276.00" x2="455.90" y2="276.00" stroke="#968bcf" stroke-width="0.7" />
<line x1="448.90" y1="264.10" x2="457.70" y2="264.10" stroke="#6a639f" stroke-width="1" />
<circle cx="453.30" cy="250.10" r="2.1" fill="#8b5cf6" stroke="none" stroke-width="0.6"/>
<circle cx="453.30" cy="264.10" r="2.1" fill="#8b5cf6" stroke="none" stroke-width="0.6"/>
<circle cx="453.30" cy="276.00" r="2.1" fill="#8b5cf6" stroke="none" stroke-width="0.6"/>
<line x1="392.00" y1="313.60" x2="464.00" y2="313.60" stroke="#d0d4da" stroke-width="1.7" />
<line x1="407.00" y1="314.40" x2="407.00" y2="317.60" stroke="#6f7886" stroke-width="1" />
<line x1="422.50" y1="314.40" x2="422.50" y2="317.60" stroke="#6f7886" stroke-width="1" />
<line x1="438.00" y1="314.40" x2="438.00" y2="317.60" stroke="#6f7886" stroke-width="1" />
<line x1="453.50" y1="314.40" x2="453.50" y2="317.60" stroke="#6f7886" stroke-width="1" />
<text x="393.20" y="329.00" font-size="7.2" fill="#3a4558" text-anchor="end" >BPD</text>
<text x="394.70" y="341.00" font-size="7.2" fill="#3a4558" text-anchor="end" >Light</text>
<text x="407.00" y="329.20" font-size="6.5" fill="#3a4558" text-anchor="middle" >+</text>
<text x="407.00" y="340.80" font-size="6.5" fill="#3a4558" text-anchor="middle" >-</text>
<text x="422.50" y="329.20" font-size="6.5" fill="#3a4558" text-anchor="middle" >+</text>
<text x="422.50" y="340.80" font-size="6.5" fill="#3a4558" text-anchor="middle" >-</text>
<text x="438.00" y="329.20" font-size="6.5" fill="#3a4558" text-anchor="middle" >+</text>
<text x="438.00" y="340.80" font-size="6.5" fill="#3a4558" text-anchor="middle" >+</text>
<text x="453.50" y="329.20" font-size="6.5" fill="#3a4558" text-anchor="middle" >+</text>
<text x="453.50" y="340.80" font-size="6.5" fill="#3a4558" text-anchor="middle" >+</text>
<line x1="474.60" y1="221.80" x2="481.00" y2="221.80" stroke="#8a94a3" stroke-width="0.7" />
<circle cx="477.80" cy="221.80" r="1.7" fill="#d9e1ea" stroke="#a5b0be" stroke-width="0.6"/>
<text x="484.90" y="223.70" font-size="5.3" fill="#3a4558" text-anchor="start" >(-) DFO</text>
<line x1="474.60" y1="228.60" x2="481.00" y2="228.60" stroke="#7d8797" stroke-width="0.7" />
<circle cx="477.80" cy="228.60" r="1.8" fill="#8b5cf6" stroke="none" stroke-width="0.6"/>
<text x="484.90" y="230.50" font-size="5.3" fill="#3a4558" text-anchor="start" >(+) DFO</text>
<text x="528.32" y="199.60" font-size="21.6" fill="#1c2435" text-anchor="start"  textLength="15.64" lengthAdjust="spacingAndGlyphs">H</text>
<text x="592.75" y="209.90" font-size="10" fill="#3a4558" text-anchor="start"  textLength="34.93" lengthAdjust="spacingAndGlyphs">Caov-3</text>
<line x1="575.80" y1="220.00" x2="575.80" y2="313.20" stroke="#8b94a2" stroke-width="1" />
<line x1="571.50" y1="313.20" x2="575.40" y2="313.20" stroke="#b7bec8" stroke-width="1.3" />
<text x="568.60" y="315.90" font-size="7.6" fill="#3a4558" text-anchor="end" >0</text>
<line x1="571.50" y1="289.90" x2="575.40" y2="289.90" stroke="#b7bec8" stroke-width="1.3" />
<text x="568.60" y="292.60" font-size="7.6" fill="#3a4558" text-anchor="end" >1</text>
<line x1="571.50" y1="266.60" x2="575.40" y2="266.60" stroke="#b7bec8" stroke-width="1.3" />
<text x="568.60" y="269.30" font-size="7.6" fill="#3a4558" text-anchor="end" >2</text>
<line x1="571.50" y1="243.30" x2="575.40" y2="243.30" stroke="#b7bec8" stroke-width="1.3" />
<text x="568.60" y="246.00" font-size="7.6" fill="#3a4558" text-anchor="end" >3</text>
<line x1="571.50" y1="220.00" x2="575.40" y2="220.00" stroke="#b7bec8" stroke-width="1.3" />
<text x="568.60" y="222.70" font-size="7.6" fill="#3a4558" text-anchor="end" >4</text>
<line x1="576.30" y1="290.40" x2="644.00" y2="290.40" stroke="#929ba9" stroke-width="0.8" stroke-dasharray="1 0.9 2.1 1"/>
<text transform="translate(557.30,266.00) rotate(-90)" font-size="8.6" fill="#3a4558" text-anchor="middle" textLength="104.58" lengthAdjust="spacingAndGlyphs">C11 BODIPY Oxidized/Total</text>
<line x1="586.40" y1="274.70" x2="586.40" y2="289.00" stroke="#c4ccd6" stroke-width="1.2" />
<line x1="583.80" y1="274.70" x2="589.00" y2="274.70" stroke="#c4ccd6" stroke-width="0.7" />
<line x1="583.80" y1="289.00" x2="589.00" y2="289.00" stroke="#c4ccd6" stroke-width="0.7" />
<line x1="582.00" y1="287.70" x2="590.80" y2="287.70" stroke="#97a1ae" stroke-width="1" />
<circle cx="586.40" cy="274.70" r="2" fill="#d9e1ea" stroke="#a5b0be" stroke-width="0.6"/>
<circle cx="584.40" cy="287.70" r="2" fill="#d9e1ea" stroke="#a5b0be" stroke-width="0.6"/>
<circle cx="588.30" cy="289.00" r="2" fill="#d9e1ea" stroke="#a5b0be" stroke-width="0.6"/>
<line x1="602.00" y1="286.90" x2="602.00" y2="291.70" stroke="#7f8b9b" stroke-width="1" />
<line x1="599.40" y1="286.90" x2="604.60" y2="286.90" stroke="#7f8b9b" stroke-width="0.7" />
<line x1="599.40" y1="291.70" x2="604.60" y2="291.70" stroke="#7f8b9b" stroke-width="0.7" />
<line x1="597.60" y1="286.90" x2="606.40" y2="286.90" stroke="#5d6878" stroke-width="1" />
<circle cx="600.00" cy="286.90" r="2.1" fill="#4aa8ea" stroke="none" stroke-width="0.6"/>
<circle cx="604.10" cy="286.90" r="2.1" fill="#4aa8ea" stroke="none" stroke-width="0.6"/>
<circle cx="602.00" cy="291.70" r="2.1" fill="#4aa8ea" stroke="none" stroke-width="0.6"/>
<line x1="617.70" y1="220.50" x2="617.70" y2="273.00" stroke="#c4ccd6" stroke-width="1.2" />
<line x1="615.10" y1="220.50" x2="620.30" y2="220.50" stroke="#c4ccd6" stroke-width="0.7" />
<line x1="615.10" y1="273.00" x2="620.30" y2="273.00" stroke="#c4ccd6" stroke-width="0.7" />
<line x1="613.30" y1="267.60" x2="622.10" y2="267.60" stroke="#97a1ae" stroke-width="1" />
<circle cx="617.70" cy="220.50" r="2" fill="#d9e1ea" stroke="#a5b0be" stroke-width="0.6"/>
<circle cx="617.70" cy="267.10" r="2" fill="#d9e1ea" stroke="#a5b0be" stroke-width="0.6"/>
<circle cx="617.70" cy="273.00" r="2" fill="#d9e1ea" stroke="#a5b0be" stroke-width="0.6"/>
<line x1="633.30" y1="226.30" x2="633.30" y2="285.80" stroke="#7f8b9b" stroke-width="1" />
<line x1="630.70" y1="226.30" x2="635.90" y2="226.30" stroke="#7f8b9b" stroke-width="0.7" />
<line x1="630.70" y1="285.80" x2="635.90" y2="285.80" stroke="#7f8b9b" stroke-width="0.7" />
<line x1="628.90" y1="273.40" x2="637.70" y2="273.40" stroke="#5d6878" stroke-width="1" />
<circle cx="633.30" cy="226.30" r="2.1" fill="#4aa8ea" stroke="none" stroke-width="0.6"/>
<circle cx="633.30" cy="273.40" r="2.1" fill="#4aa8ea" stroke="none" stroke-width="0.6"/>
<circle cx="633.30" cy="285.80" r="2.1" fill="#4aa8ea" stroke="none" stroke-width="0.6"/>
<line x1="571.30" y1="313.60" x2="644.00" y2="313.60" stroke="#d0d4da" stroke-width="1.7" />
<line x1="586.50" y1="314.40" x2="586.50" y2="317.60" stroke="#6f7886" stroke-width="1" />
<line x1="602.00" y1="314.40" x2="602.00" y2="317.60" stroke="#6f7886" stroke-width="1" />
<line x1="617.50" y1="314.40" x2="617.50" y2="317.60" stroke="#6f7886" stroke-width="1" />
<line x1="633.00" y1="314.40" x2="633.00" y2="317.60" stroke="#6f7886" stroke-width="1" />
<text x="572.50" y="329.00" font-size="7.2" fill="#3a4558" text-anchor="end" >BPD</text>
<text x="574.40" y="341.00" font-size="7.2" fill="#3a4558" text-anchor="end" >Light</text>
<text x="586.50" y="329.20" font-size="6.5" fill="#3a4558" text-anchor="middle" >+</text>
<text x="586.50" y="340.80" font-size="6.5" fill="#3a4558" text-anchor="middle" >-</text>
<text x="602.00" y="329.20" font-size="6.5" fill="#3a4558" text-anchor="middle" >+</text>
<text x="602.00" y="340.80" font-size="6.5" fill="#3a4558" text-anchor="middle" >-</text>
<text x="617.50" y="329.20" font-size="6.5" fill="#3a4558" text-anchor="middle" >+</text>
<text x="617.50" y="340.80" font-size="6.5" fill="#3a4558" text-anchor="middle" >+</text>
<text x="633.00" y="329.20" font-size="6.5" fill="#3a4558" text-anchor="middle" >+</text>
<text x="633.00" y="340.80" font-size="6.5" fill="#3a4558" text-anchor="middle" >+</text>
<line x1="654.10" y1="222.00" x2="660.50" y2="222.00" stroke="#8a94a3" stroke-width="0.7" />
<circle cx="657.30" cy="222.00" r="1.7" fill="#d9e1ea" stroke="#a5b0be" stroke-width="0.6"/>
<text x="663.80" y="223.90" font-size="5.3" fill="#3a4558" text-anchor="start" >(-) DFO</text>
<line x1="654.10" y1="228.60" x2="660.50" y2="228.60" stroke="#7d8797" stroke-width="0.7" />
<circle cx="657.30" cy="228.60" r="1.8" fill="#4aa8ea" stroke="none" stroke-width="0.6"/>
<text x="663.80" y="230.50" font-size="5.3" fill="#3a4558" text-anchor="start" >(+) DFO</text>
</svg>
</body></html>
